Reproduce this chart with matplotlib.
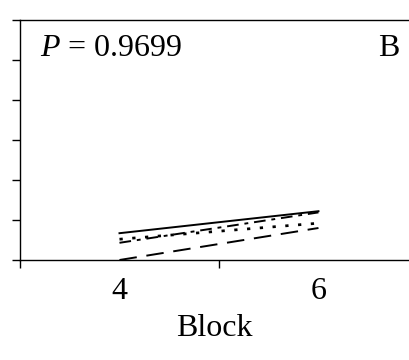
import matplotlib
matplotlib.use("Agg")
import matplotlib.pyplot as plt

plt.rcParams['font.family'] = ['Liberation Serif', 'DejaVu Serif']
plt.rcParams['mathtext.fontset'] = 'custom'
plt.rcParams['mathtext.it'] = 'Liberation Serif:italic'
plt.rcParams['mathtext.rm'] = 'Liberation Serif'

blocks = [4, 6]
solid_vals = [0.67, 1.22]
dashdot_vals = [0.43, 1.19]
dotted_vals = [0.52, 0.92]
longdash_vals = [0.0, 0.80]
tick_labels = ["4", "6"]
p_text = "$P$ = 0.9699"
panel = "B"

fig = plt.figure(figsize=(4.09, 3.60), dpi=100)
ax = fig.add_axes([20 / 409, 1 - 260 / 360, 1 - 20 / 409, 240 / 360])

lw = 1.4
ax.plot(blocks, solid_vals, color='black', lw=lw, linestyle='-')
ax.plot(blocks, dashdot_vals, color='black', lw=lw, linestyle=(0, (6, 3, 2, 3)))
ax.plot(blocks, dotted_vals, color='black', lw=lw * 1.4, linestyle=(0, (1.2, 3.5)))
ax.plot(blocks, longdash_vals, color='black', lw=lw, linestyle=(0, (9, 5)))

ax.set_xlim(3, 6.91)
ax.set_ylim(0, 6)

ax.spines['right'].set_visible(False)
for s in ['left', 'bottom', 'top']:
    ax.spines[s].set_linewidth(1.0)

ax.set_yticks(range(0, 7))
ax.set_yticklabels([])
ax.tick_params(axis='y', direction='out', length=6, width=1.0)

ax.set_xticks([3, 5])
ax.set_xticklabels([])
ax.set_xticks(blocks, minor=True)
ax.set_xticklabels(tick_labels, minor=True, fontsize=23)
ax.tick_params(axis='x', which='major', direction='out', length=6, width=1.0)
ax.tick_params(axis='x', which='minor', length=0, pad=12)

ax.set_xlabel("Block", fontsize=23, labelpad=6)

ax.text(0.052, 0.94, p_text, transform=ax.transAxes, fontsize=23, va='top', ha='left')
ax.text(0.975, 0.94, panel, transform=ax.transAxes, fontsize=23, va='top', ha='right')

fig.savefig("out.png", dpi=100)
